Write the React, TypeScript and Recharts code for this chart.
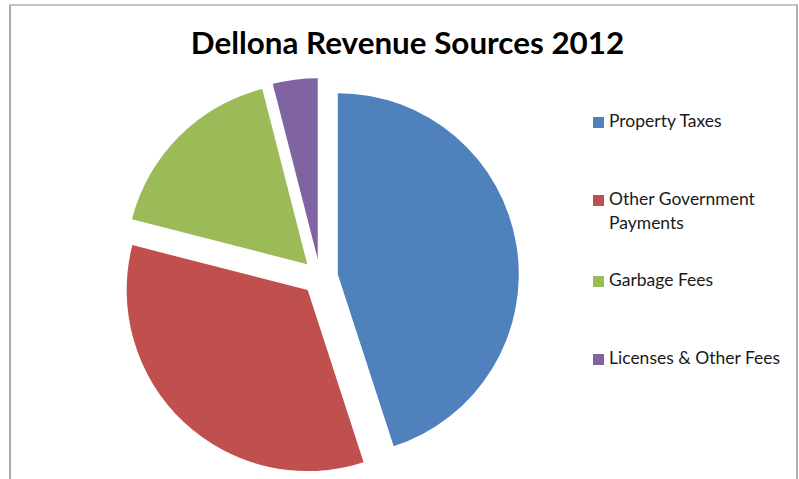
import { PieChart, Pie, Cell, Legend } from "recharts";

const categories = [
  "Property Taxes",
  "Other Government Payments",
  "Garbage Fees",
  "Licenses & Other Fees",
];
const shares = [45, 34, 17, 4];
const colors = ["#4F81BD", "#C0504D", "#9BBB59", "#8064A2"];
const legendLines = [
  ["Property Taxes"],
  ["Other Government", "Payments"],
  ["Garbage Fees"],
  ["Licenses & Other Fees"],
];

const data = categories.map((name, i) => ({ name, value: shares[i] }));

const CX = 320;
const CY = 277;
const RADIUS = 181;
const EXPLODE = 18;
const LEGEND_TOPS = [111, 189, 270, 348];
const FONT = "Lato, 'Open Sans', sans-serif";

// mid angle of slice k, in recharts degrees (ccw from 3 o'clock), going clockwise from 12
function midAngle(k: number) {
  const total = shares.reduce((a, b) => a + b, 0);
  let before = 0;
  for (let i = 0; i < k; i++) before += shares[i];
  const frac = (before + shares[k] / 2) / total;
  return 90 - 360 * frac;
}

function LegendBox() {
  return (
    <div style={{ position: "relative", fontFamily: FONT, fontSize: 17.5, color: "#1a1a1a" }}>
      {categories.map((c, i) => (
        <div
          key={c}
          style={{ position: "absolute", left: 0, top: LEGEND_TOPS[i] - LEGEND_TOPS[0], whiteSpace: "nowrap" }}
        >
          <span
            style={{
              position: "absolute",
              left: 0,
              top: 6,
              width: 11,
              height: 11,
              background: colors[i],
            }}
          />
          <div style={{ marginLeft: 16, marginTop: -2, lineHeight: "24px" }}>
            {legendLines[i].map((l) => (
              <div key={l}>{l}</div>
            ))}
          </div>
        </div>
      ))}
    </div>
  );
}

export default function App() {
  return (
    <div style={{ position: "absolute", left: 0, top: 0, width: 799, height: 479, overflow: "hidden", background: "#fff" }}>
      <div
        style={{
          position: "absolute",
          left: 9,
          top: 4,
          width: 785,
          height: 520,
          borderLeft: "2px solid #a8a8a8",
          borderTop: "2px solid #c4c4c4",
          borderRight: "2px solid #b0b0b0",
        }}
      />
      <div
        style={{
          position: "absolute",
          left: 0,
          width: 815,
          top: 22,
          textAlign: "center",
          fontFamily: FONT,
          fontWeight: 700,
          fontSize: 31.4,
          color: "#000",
          lineHeight: "40px",
        }}
      >
        Dellona Revenue Sources 2012
      </div>
      <div style={{ position: "absolute", left: 0, top: 0 }}>
        <PieChart width={799} height={479} margin={{ top: 0, right: 0, bottom: 0, left: 0 }}>
          {categories.map((c, k) => {
            const a = (midAngle(k) * Math.PI) / 180;
            return (
              <Pie
                key={c}
                data={data}
                dataKey="value"
                nameKey="name"
                cx={CX + EXPLODE * Math.cos(a)}
                cy={CY - EXPLODE * Math.sin(a)}
                outerRadius={RADIUS}
                startAngle={90}
                endAngle={-270}
                stroke="none"
                legendType={k === 0 ? "square" : "none"}
                isAnimationActive={false}
              >
                {data.map((d, i) => (
                  <Cell key={d.name} fill={i === k ? colors[i] : "none"} stroke="none" />
                ))}
              </Pie>
            );
          })}
          <Legend
            content={() => <LegendBox />}
            wrapperStyle={{ position: "absolute", left: 593, top: LEGEND_TOPS[0], width: 200, height: 280 }}
          />
        </PieChart>
      </div>
    </div>
  );
}
